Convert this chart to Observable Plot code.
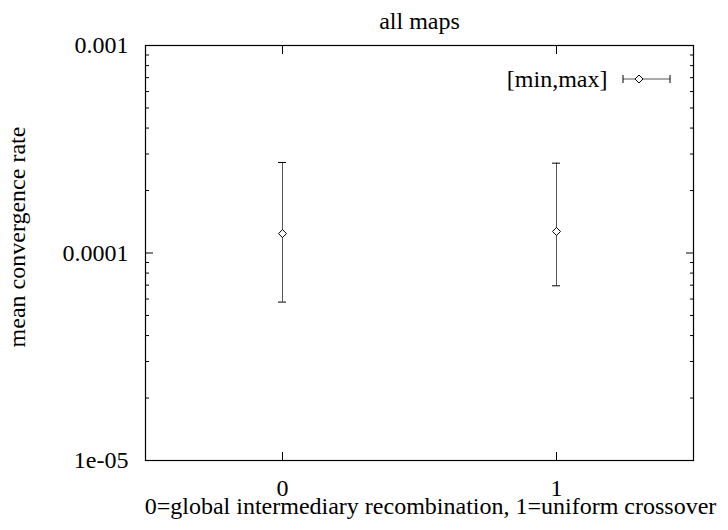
<!DOCTYPE html>
<html>
<head>
<meta charset="utf-8">
<script src="https://cdn.jsdelivr.net/npm/d3@7"></script>
<script src="https://cdn.jsdelivr.net/npm/@observablehq/plot@0.6"></script>
<style>
  html, body { margin: 0; padding: 0; background: #fff; }
</style>
</head>
<body>
<div id="chart"></div>
<script>
// Data
const categories = [0, 1];
const meanValues = [1.24e-4, 1.27e-4];
const minValues = [5.8e-5, 6.95e-5];
const maxValues = [2.73e-4, 2.71e-4];

const xTicks = [0, 1];
const yMajorTicks = [1e-5, 1e-4, 1e-3];
const yTickLabels = ["1e-05", "0.0001", "0.001"];
const yMinorTicks = [2e-5,3e-5,4e-5,5e-5,6e-5,7e-5,8e-5,9e-5,2e-4,3e-4,4e-4,5e-4,6e-4,7e-4,8e-4,9e-4];

const titleText = "all maps";
const xLabelText = "0=global intermediary recombination, 1=uniform crossover";
const yLabelText = "mean convergence rate";
const legendText = "[min,max]";

const data = categories.map((k, i) => ({k, mean: meanValues[i], min: minValues[i], max: maxValues[i]}));
const fmtY = d => yTickLabels[yMajorTicks.indexOf(d)] ?? "";

const barColor = "#555";
const FONT = "Liberation Serif";
const FS = 24;

const plot = Plot.plot({
  width: 728,
  height: 530,
  marginLeft: 145,
  marginRight: 35,
  marginTop: 45,
  marginBottom: 70,
  style: "font-family: 'Liberation Serif', serif; font-size: 24px; background: #fff; color: #000;",
  x: {domain: [-0.5, 1.5]},
  y: {type: "log", domain: [1e-5, 1e-3]},
  marks: [
    Plot.axisY(yMajorTicks, {anchor: "left", tickSize: 0, tickPadding: 17, tickFormat: fmtY, label: null, fontSize: FS, fontFamily: FONT}),
    Plot.axisY(yMajorTicks, {anchor: "left", tickSize: -8, tickFormat: () => "", label: null}),
    Plot.axisY(yMinorTicks, {anchor: "left", tickSize: -4, tickFormat: () => "", label: null}),
    Plot.axisY(yMajorTicks, {anchor: "right", tickSize: -8, tickFormat: () => "", label: null}),
    Plot.axisY(yMinorTicks, {anchor: "right", tickSize: -4, tickFormat: () => "", label: null}),
    Plot.axisX(xTicks, {anchor: "bottom", tickSize: 0, tickPadding: 18, lineAnchor: "top", tickFormat: d => String(d), label: null, fontSize: FS, fontFamily: FONT}),
    Plot.axisX(xTicks, {anchor: "bottom", tickSize: -8, tickFormat: () => "", label: null}),
    Plot.axisX(xTicks, {anchor: "top", tickSize: -8, tickFormat: () => "", label: null}),
    Plot.frame({stroke: "#000", strokeWidth: 1.2}),
    Plot.ruleX(data, {x: "k", y1: "min", y2: "max", stroke: barColor, strokeWidth: 1}),
    Plot.ruleY(data, {y: "min", x1: "k", x2: "k", insetLeft: -4, insetRight: -4, stroke: "#000"}),
    Plot.ruleY(data, {y: "max", x1: "k", x2: "k", insetLeft: -4, insetRight: -4, stroke: "#000"}),
    Plot.dot(data, {x: "k", y: "mean", symbol: "diamond2", r: 3.6, fill: "white", stroke: "#000", strokeWidth: 1}),
    Plot.text([titleText], {frameAnchor: "top", dy: -24, lineAnchor: "middle", textAnchor: "middle", fill: "#000", fontSize: FS, fontFamily: FONT}),
    Plot.text([xLabelText], {frameAnchor: "bottom", dx: 11, dy: 46, lineAnchor: "middle", textAnchor: "middle", fill: "#000", fontSize: FS, fontFamily: FONT}),
    Plot.text([yLabelText], {frameAnchor: "left", rotate: -90, dx: -128, dy: -16, lineAnchor: "middle", textAnchor: "middle", fill: "#000", fontSize: FS, fontFamily: FONT}),
    Plot.text([legendText], {frameAnchor: "top-right", dx: -86, dy: 34, lineAnchor: "middle", textAnchor: "end", fill: "#000", fontSize: FS, fontFamily: FONT})
  ]
});

// Legend sample (error bar glyph)
const svg = d3.select(plot);
const g = svg.append("g");
const lx1 = 623, lx2 = 670, ly = 79, lcx = 639;
g.append("line").attr("x1", lx1).attr("x2", lx2).attr("y1", ly).attr("y2", ly).attr("stroke", barColor);
g.append("line").attr("x1", lx1).attr("x2", lx1).attr("y1", ly - 4).attr("y2", ly + 4).attr("stroke", "#000");
g.append("line").attr("x1", lx2).attr("x2", lx2).attr("y1", ly - 4).attr("y2", ly + 4).attr("stroke", "#000");
g.append("path").attr("d", d3.symbol(d3.symbolDiamond2, 3.6 * 3.6 * Math.PI)()).attr("transform", `translate(${lcx},${ly})`)
  .attr("fill", "white").attr("stroke", "#000");

svg.selectAll("text").attr("font-family", FONT).attr("font-size", FS);

document.getElementById("chart").appendChild(plot);
</script>
</body>
</html>
